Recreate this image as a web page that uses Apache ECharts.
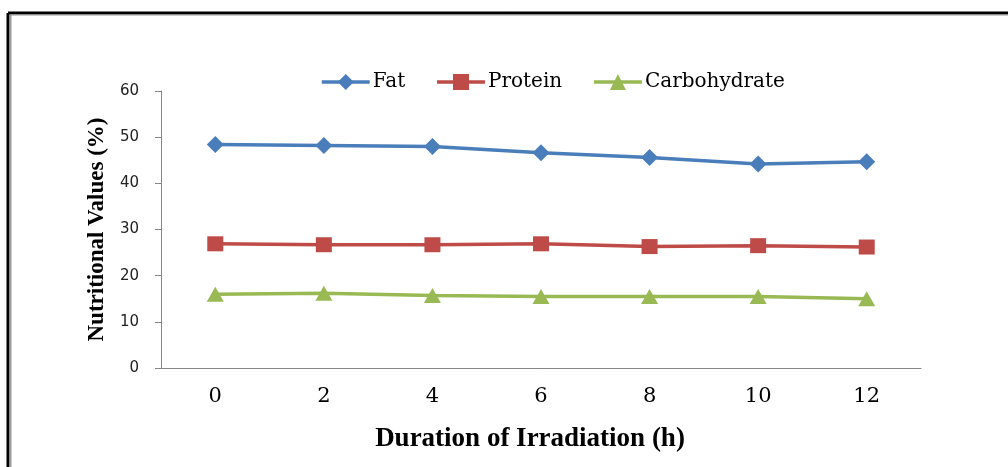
<!DOCTYPE html>
<html>
<head>
<meta charset="utf-8">
<script src="https://cdn.jsdelivr.net/npm/echarts@6/dist/echarts.min.js"></script>
<style>
  html, body { margin: 0; padding: 0; background: #fff; }
  #chart { width: 1008px; height: 467px; }
</style>
</head>
<body>
<div id="chart"></div>
<script>
// hours of irradiation
const hours = ['0', '2', '4', '6', '8', '10', '12'];
const fat = [48.4, 48.2, 48.0, 46.6, 45.6, 44.2, 44.7];
const protein = [26.9, 26.7, 26.7, 26.9, 26.3, 26.5, 26.2];
const carbohydrate = [16.0, 16.2, 15.7, 15.5, 15.5, 15.5, 15.0];

const serif = '"Liberation Serif", "Times New Roman", serif';
const wideSerif = '"DejaVu Serif", serif';

const myChart = echarts.init(document.getElementById('chart'));
const option = {
  animation: false,
  color: ['#4a7ebb', '#be4b48', '#98b954'],
  graphic: [
    // frame round the chart (black with gray inner line, open right/bottom)
    { type: 'line', shape: { x1: 8, y1: 13, x2: 1008, y2: 13 }, style: { stroke: '#000', lineWidth: 3 } },
    { type: 'line', shape: { x1: 8, y1: 13, x2: 8, y2: 467 }, style: { stroke: '#000', lineWidth: 3 } },
    { type: 'line', shape: { x1: 10.5, y1: 15, x2: 1008, y2: 15 }, style: { stroke: '#999', lineWidth: 1 } },
    { type: 'line', shape: { x1: 10.5, y1: 15, x2: 10.5, y2: 467 }, style: { stroke: '#999', lineWidth: 2 } }
  ],
  legend: {
    left: 315,
    top: 67,
    itemWidth: 48,
    itemHeight: 20,
    itemGap: 30,
    lineStyle: { width: 3.5 },
    textStyle: { fontFamily: wideSerif, fontSize: 20, color: '#000', padding: [0, 0, 0, -2] },
    data: ['Fat', 'Protein', 'Carbohydrate']
  },
  grid: {
    left: 161,
    right: 87,
    top: 91,
    bottom: 99
  },
  xAxis: {
    type: 'category',
    data: hours,
    name: 'Duration of Irradiation (h)',
    nameLocation: 'middle',
    nameGap: 58,
    nameTextStyle: {
      fontFamily: serif, fontSize: 27, fontWeight: 'bold', color: '#000',
      padding: [0, 22, 0, 0]
    },
    axisLine: { lineStyle: { color: '#868686', width: 1 } },
    axisTick: { length: 6, lineStyle: { color: '#868686' } },
    axisLabel: { margin: 18, fontFamily: wideSerif, fontSize: 21, color: '#000' }
  },
  yAxis: {
    type: 'value',
    min: 0,
    max: 60,
    interval: 10,
    name: 'Nutritional Values (%)',
    nameLocation: 'middle',
    nameGap: 52,
    nameRotate: 90,
    nameTextStyle: { fontFamily: serif, fontSize: 23, fontWeight: 'bold', color: '#000' },
    splitLine: { show: false },
    axisLine: { show: true, lineStyle: { color: '#868686', width: 1 } },
    axisTick: { show: true, length: 6, lineStyle: { color: '#868686' } },
    axisLabel: { margin: 22, fontFamily: '"DejaVu Sans", Verdana, sans-serif', fontSize: 15, color: '#222' }
  },
  series: [
    {
      name: 'Fat',
      type: 'line',
      symbol: 'diamond',
      symbolSize: 17,
      lineStyle: { width: 3.5 },
      data: fat
    },
    {
      name: 'Protein',
      type: 'line',
      symbol: 'rect',
      symbolSize: [16, 15],
      lineStyle: { width: 3.5 },
      data: protein
    },
    {
      name: 'Carbohydrate',
      type: 'line',
      symbol: 'triangle',
      symbolSize: [17, 15],
      lineStyle: { width: 3.5 },
      data: carbohydrate
    }
  ]
};
myChart.setOption(option);
</script>
</body>
</html>
